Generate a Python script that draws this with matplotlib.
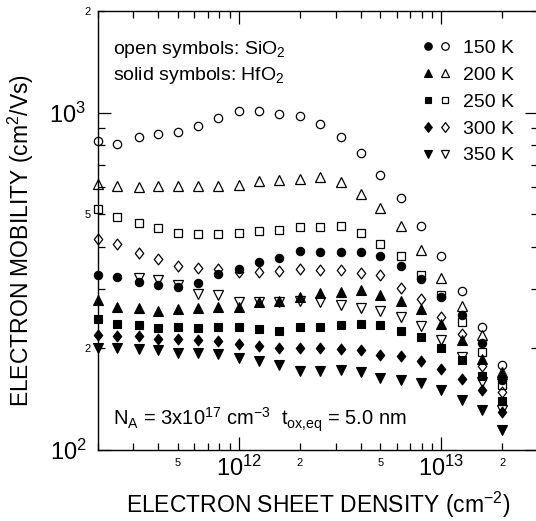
import matplotlib

matplotlib.use("Agg")

import matplotlib.pyplot as plt
import numpy as np
from matplotlib import ticker
from matplotlib.legend_handler import HandlerTuple
from matplotlib.lines import Line2D
from matplotlib.path import Path

plt.rcParams.update({
    "font.family": ["Liberation Sans", "DejaVu Sans"],
    "mathtext.fontset": "custom",
    "mathtext.rm": "Liberation Sans",
    "mathtext.it": "Liberation Sans:italic",
    "mathtext.bf": "Liberation Sans:bold",
    "mathtext.default": "regular",
})

# electron sheet density (cm^-2)
density = [2.0e11, 2.5e11, 3.2e11, 4.0e11, 5.0e11, 6.3e11, 7.9e11,
           1.0e12, 1.26e12, 1.58e12, 2.0e12, 2.5e12, 3.2e12, 4.0e12,
           5.0e12, 6.3e12, 7.9e12, 1.0e13, 1.26e13, 1.58e13, 2.0e13]

# electron mobility (cm^2/Vs), open symbols = SiO2, solid symbols = HfO2
sio2_150 = [822, 807, 845, 866, 878, 915, 964, 1014, 1009, 993, 975,
            926, 846, 759, 655, 558, 461, 375, 296, 231, 179]
hfo2_150 = [331, 326, 315, 309, 305, 312, 332, 344, 361, 371, 388,
            385, 386, 386, 375, 351, 322, 284, 252, 207, 161]
sio2_200 = [614, 604, 602, 604, 605, 605, 607, 611, 628, 633, 636,
            644, 623, 575, 522, 462, 392, 324, 268, 219, 170]
hfo2_200 = [278, 266, 263, 258, 262, 264, 265, 266, 274, 277, 284,
            292, 294, 297, 287, 276, 262, 237, 212, 186, 168]
sio2_250 = [519, 492, 471, 456, 441, 438, 438, 439, 446, 450, 457,
            457, 460, 441, 409, 375, 330, 288, 240, 195, 156]
hfo2_250 = [244, 237, 235, 230, 231, 230, 232, 232, 229, 225, 232,
            232, 234, 237, 234, 226, 216, 201, 185, 166, 140]
sio2_300 = [423, 408, 383, 368, 350, 347, 344, 338, 337, 339, 345,
            341, 342, 334, 331, 303, 281, 248, 221, 177, 149]
hfo2_300 = [219, 218, 217, 214, 213, 212, 210, 206, 204, 200, 201,
            201, 199, 198, 191, 190, 184, 174, 162, 151, 130]
sio2_350 = [np.nan, np.nan, 323, 320, 309, 290, 287, 275, 274, 274, 277,
            274, 269, 263, 259, 247, 233, 212, 189, 159, 131]
hfo2_350 = [201, 200, 199, 198, 194, 194, 193, 187, 183, 179, 171,
            171, 173, 170, 164, 161, 158, 151, 141, 131, 115]

temps = ["150 K", "200 K", "250 K", "300 K", "350 K"]

diamond = Path([(0, 1), (0.78, 0), (0, -1), (-0.78, 0), (0, 1)], closed=True)
marker_styles = [("o", 6.0), ("^", 6.6), ("s", 5.2), (diamond, 7.8), ("v", 6.6)]

series = [
    (sio2_150, hfo2_150),
    (sio2_200, hfo2_200),
    (sio2_250, hfo2_250),
    (sio2_300, hfo2_300),
    (sio2_350, hfo2_350),
]

fig = plt.figure(figsize=(5.36, 5.21), dpi=100)
ax = fig.add_axes([97.5 / 536, 1 - 450 / 521, 440.5 / 536, 439 / 521])

handles = []
for (sio2, hfo2), (marker, ms) in zip(series, marker_styles):
    ax.plot(density, hfo2, ls="none", marker=marker, ms=ms, mfc="black", mec="black",
            mew=0.8, clip_on=False)
    ax.plot(density, sio2, ls="none", marker=marker, ms=ms, mfc="none", mec="black",
            mew=0.9, clip_on=False)
    solid = Line2D([], [], ls="none", marker=marker, ms=ms * 0.9, mfc="black", mec="black", mew=0.8)
    hollow = Line2D([], [], ls="none", marker=marker, ms=ms * 0.9, mfc="none", mec="black", mew=0.9)
    handles.append((solid, hollow))

ax.set_xscale("log")
ax.set_yscale("log")
ax.set_xlim(2e11, 3e13)
ax.set_ylim(100, 2000)

minor_subs = np.arange(2, 10)
ax.xaxis.set_minor_locator(ticker.LogLocator(base=10, subs=minor_subs, numticks=50))
ax.yaxis.set_minor_locator(ticker.LogLocator(base=10, subs=minor_subs, numticks=50))

x_minor_labels = [5e11, 2e12, 5e12, 2e13]
y_minor_labels = [200, 500, 2000]


def minor_formatter(labelled):
    def fmt(value, pos):
        for v in labelled:
            if abs(value / v - 1) < 1e-3:
                return f"{v / 10 ** np.floor(np.log10(v)):.0f}"
        return ""
    return ticker.FuncFormatter(fmt)


ax.xaxis.set_minor_formatter(minor_formatter(x_minor_labels))
ax.yaxis.set_minor_formatter(minor_formatter(y_minor_labels))

ax.tick_params(which="both", direction="in", top=True, right=True, width=0.9)
ax.tick_params(which="major", length=9.5, labelsize=17)
ax.tick_params(which="minor", length=5, labelsize=8)
ax.xaxis.set_tick_params(which="major", pad=4)
ax.xaxis.set_tick_params(which="minor", pad=6)
ax.yaxis.set_tick_params(which="major", pad=8)
ax.yaxis.set_tick_params(which="minor", pad=5)
for spine in ax.spines.values():
    spine.set_linewidth(1.0)

ax.set_xlabel("ELECTRON SHEET DENSITY (cm$^{-2}$)", fontsize=16.5)
ax.set_ylabel("ELECTRON MOBILITY (cm$^2$/Vs)", fontsize=16.5)
ax.xaxis.set_label_coords(0.5, -0.09)
ax.yaxis.set_label_coords(-0.14, 0.478)

ax.text(0.035, 0.912, "open symbols: SiO$_2$", transform=ax.transAxes, fontsize=14, va="center")
ax.text(0.035, 0.852, "solid symbols: HfO$_2$", transform=ax.transAxes, fontsize=14, va="center")
ax.text(0.035, 0.055, r"N$_A$ = 3x10$^{17}$ cm$^{-3}$  t$_{ox{,}eq}$ = 5.0 nm",
        transform=ax.transAxes, fontsize=14.5, va="baseline")

ax.legend(handles, temps, handler_map={tuple: HandlerTuple(ndivide=None, pad=0.3)},
          loc="upper right", bbox_to_anchor=(0.945, 0.936), frameon=False, fontsize=14,
          borderpad=0, borderaxespad=0, handlelength=1.5, handletextpad=0.6,
          labelspacing=0.48, numpoints=1)

fig.savefig("out.png", dpi=100)
